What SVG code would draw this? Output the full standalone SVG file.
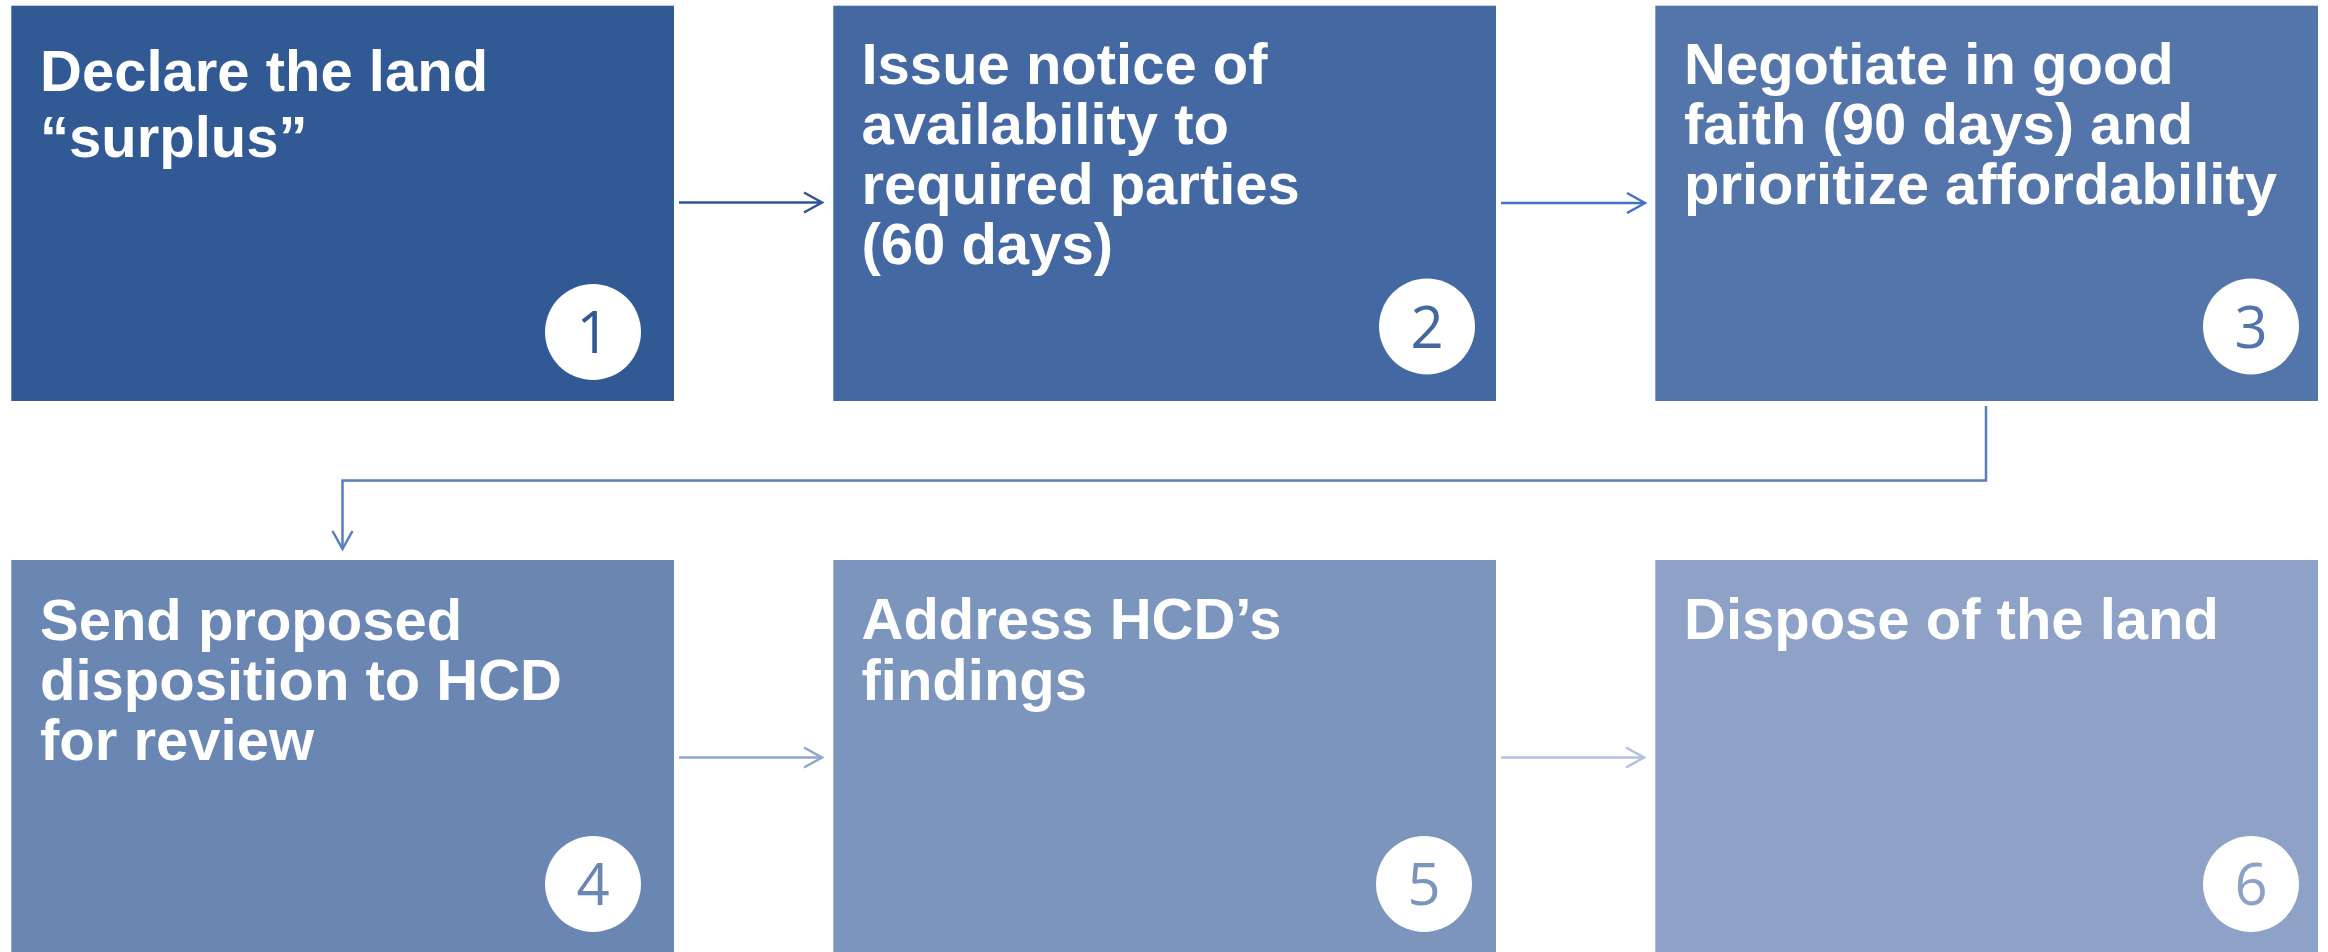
<svg xmlns="http://www.w3.org/2000/svg" width="2328" height="952" viewBox="0 0 2328 952">
<style>
.lbl{font-family:"Liberation Sans",Arial,sans-serif;font-weight:bold;font-size:58px;fill:#fff}
.num{font-family:"Open Sans","Noto Sans",sans-serif;font-size:58px;text-anchor:middle}
.badge{fill:#fff}
.conn{fill:none;stroke-width:2.5}
</style>
<defs>
<marker id="ah1" markerUnits="userSpaceOnUse" markerWidth="24" markerHeight="26" refX="20" refY="12" orient="auto"><path d="M2,2 L20,12 L2,22" fill="none" stroke="#2F5597" stroke-width="2.5"/></marker>
<marker id="ah2" markerUnits="userSpaceOnUse" markerWidth="24" markerHeight="26" refX="20" refY="12" orient="auto"><path d="M2,2 L20,12 L2,22" fill="none" stroke="#4472C4" stroke-width="2.5"/></marker>
<marker id="ah3" markerUnits="userSpaceOnUse" markerWidth="24" markerHeight="26" refX="20" refY="12" orient="auto"><path d="M2,2 L20,12 L2,22" fill="none" stroke="#5A7DC0" stroke-width="2.5"/></marker>
<marker id="ah4" markerUnits="userSpaceOnUse" markerWidth="24" markerHeight="26" refX="20" refY="12" orient="auto"><path d="M2,2 L20,12 L2,22" fill="none" stroke="#8FA6CE" stroke-width="2.5"/></marker>
<marker id="ah5" markerUnits="userSpaceOnUse" markerWidth="24" markerHeight="26" refX="20" refY="12" orient="auto"><path d="M2,2 L20,12 L2,22" fill="none" stroke="#B3C1DC" stroke-width="2.5"/></marker>
</defs>
<rect width="2328" height="952" fill="#fff"/>
<g id="connectors">
<line class="conn" x1="679" y1="202.5" x2="822" y2="202.5" stroke="#2F5597" marker-end="url(#ah1)"/>
<line class="conn" x1="1501" y1="203" x2="1645" y2="203" stroke="#4472C4" marker-end="url(#ah2)"/>
<path class="conn" d="M1986,406 V480.5 H342.5 V549" stroke="#5A7DC0" marker-end="url(#ah3)"/>
<line class="conn" x1="679" y1="757.5" x2="822" y2="757.5" stroke="#8FA6CE" marker-end="url(#ah4)"/>
<line class="conn" x1="1501" y1="757.5" x2="1644" y2="757.5" stroke="#B3C1DC" marker-end="url(#ah5)"/>
</g>
<g id="node1">
<rect x="11.3" y="5.7" width="662.7" height="395.3" fill="#315994"/>
<text class="lbl" x="40" y="90.7">Declare the land</text>
<text class="lbl" x="40" y="156.7">“surplus”</text>
<circle class="badge" cx="593" cy="332" r="48"/>
<text class="num" x="593" y="353" fill="#315994">1</text>
</g>
<g id="node2">
<rect x="833.3" y="5.7" width="662.7" height="395.3" fill="#4468A1"/>
<text class="lbl" x="861.5" y="84">Issue notice of</text>
<text class="lbl" x="861.5" y="144">availability to</text>
<text class="lbl" x="861.5" y="204">required parties</text>
<text class="lbl" x="861.5" y="264">(60 days)</text>
<circle class="badge" cx="1427" cy="326.5" r="48"/>
<text class="num" x="1427" y="347.5" fill="#4468A1">2</text>
</g>
<g id="node3">
<rect x="1655.3" y="5.7" width="662.7" height="395.3" fill="#5475A9"/>
<text class="lbl" x="1684" y="84">Negotiate in good</text>
<text class="lbl" x="1684" y="144">faith (90 days) and</text>
<text class="lbl" x="1684" y="204">prioritize affordability</text>
<circle class="badge" cx="2251" cy="326.5" r="48"/>
<text class="num" x="2251" y="347.5" fill="#5475A9">3</text>
</g>
<g id="node4">
<rect x="11.3" y="560" width="662.7" height="395.3" fill="#6A87B4"/>
<text class="lbl" x="40" y="640">Send proposed</text>
<text class="lbl" x="40" y="699.5">disposition to HCD</text>
<text class="lbl" x="40" y="760">for review</text>
<circle class="badge" cx="593" cy="884" r="48"/>
<text class="num" x="593" y="905" fill="#6A87B4">4</text>
</g>
<g id="node5">
<rect x="833.3" y="560" width="662.7" height="395.3" fill="#7B95BD"/>
<text class="lbl" x="861.5" y="639">Address HCD’s</text>
<text class="lbl" x="861.5" y="699.5">findings</text>
<circle class="badge" cx="1424" cy="884" r="48"/>
<text class="num" x="1424" y="905" fill="#7B95BD">5</text>
</g>
<g id="node6">
<rect x="1655.3" y="560" width="662.7" height="395.3" fill="#8DA2C6"/>
<text class="lbl" x="1684" y="639">Dispose of the land</text>
<circle class="badge" cx="2251" cy="884" r="48"/>
<text class="num" x="2251" y="905" fill="#8DA2C6">6</text>
</g>
</svg>
